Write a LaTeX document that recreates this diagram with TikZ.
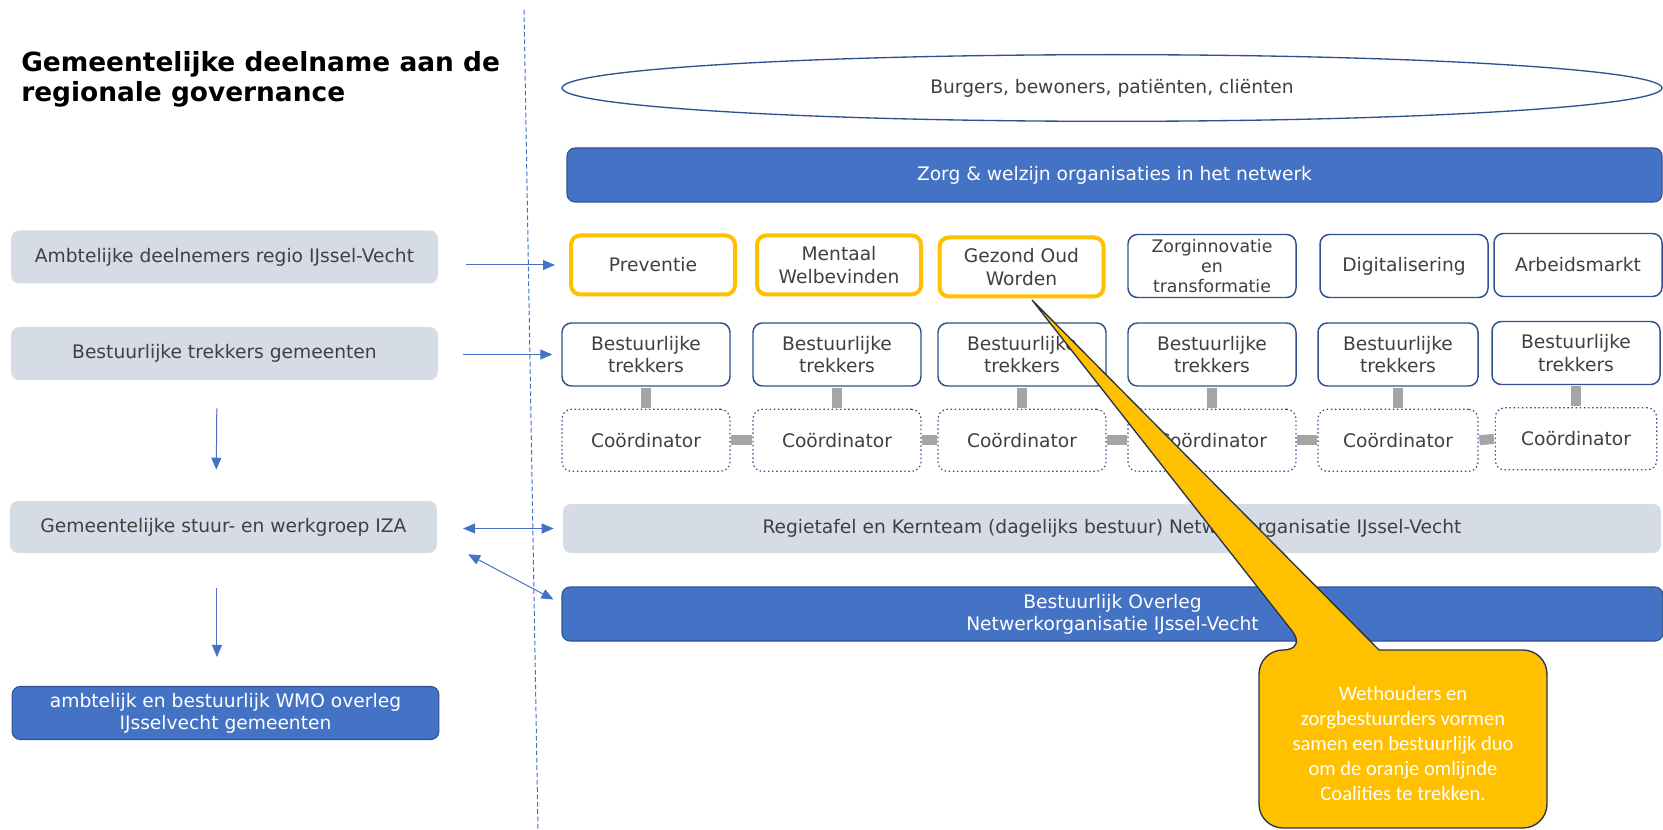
\documentclass[tikz,border=0pt]{standalone}
\usepackage{fontspec}
\setmainfont{DejaVu Sans}
\newfontfamily\calloutfont{Carlito}
\usetikzlibrary{shapes.geometric, positioning, arrows.meta, calc}

\definecolor{ppblue}{HTML}{4472C4}
\definecolor{ppdark}{HTML}{2F528F}
\definecolor{ppgrey}{HTML}{D6DCE5}
\definecolor{pporange}{HTML}{FFC000}
\definecolor{ppbar}{HTML}{A5A5A5}
\definecolor{pptext}{HTML}{404040}
\definecolor{ppnavy}{HTML}{26334D}

\begin{document}
\begin{tikzpicture}[
    x=0.75pt, y=-0.75pt,
    sidebox/.style={
        rectangle,
        rounded corners=6pt,
        fill=ppgrey,
        text=pptext,
        minimum width=320pt,
        minimum height=39.75pt,
        align=center,
        font=\fontsize{14}{16.5}\selectfont
    },
    sidebluebox/.style={
        sidebox,
        fill=ppblue,
        draw=ppdark,
        line width=0.8pt,
        inner sep=1pt,
        text=white
    },
    widebar/.style={
        rectangle,
        rounded corners=6pt,
        minimum height=40.5pt,
        align=center,
        font=\fontsize{14}{16.5}\selectfont
    },
    bluebar/.style={
        widebar,
        fill=ppblue,
        draw=ppdark,
        line width=0.8pt,
        text=white
    },
    greybar/.style={
        widebar,
        fill=ppgrey,
        text=pptext,
        minimum height=36.75pt
    },
    themebox/.style={
        rectangle,
        rounded corners=7pt,
        draw=ppdark,
        line width=1.1pt,
        fill=white,
        text=pptext,
        minimum width=126pt,
        minimum height=47.25pt,
        inner sep=2pt,
        align=center,
        font=\fontsize{14}{17}\selectfont
    },
    coalitie/.style={
        themebox,
        draw=pporange,
        line width=3pt,
        minimum width=123pt,
        minimum height=44.25pt
    },
    coordbox/.style={
        themebox,
        dotted,
        line width=0.9pt,
        minimum height=46.5pt
    },
    link/.style={
        draw=ppbar,
        line width=7.5pt,
        shorten <=0.6pt,
        shorten >=0.6pt
    },
    arr/.style={
        >={Triangle[length=9pt, width=7.5pt]},
        ->,
        draw=ppblue,
        line width=0.75pt
    },
    dblarr/.style={
        arr,
        <->
    },
    divider/.style={
        draw=ppblue,
        line width=0.75pt,
        dash pattern=on 3.5pt off 2pt
    },
    callout/.style={
        fill=pporange,
        draw=ppnavy,
        line width=1pt
    }
]

    \useasboundingbox (0,0) rectangle (1663,830);

    % Title and divider
    \node[anchor=north west, inner sep=0pt, align=left,
          font=\fontsize{19.8}{22.5}\selectfont\bfseries] (title) at (21,51)
          {Gemeentelijke deelname aan de\\regionale governance};

    \draw[divider] (524,10) -- (538,830);

    % Left column (gemeenten)
    \node[sidebox] (amb) at (224.5,257) {Ambtelijke deelnemers regio IJssel-Vecht};
    \node[sidebox] (bes) at (224.5,353.5) {Bestuurlijke trekkers gemeenten};
    \node[sidebox, minimum height=39pt] (gem) at (223.5,527) {Gemeentelijke stuur- en werkgroep IZA};
    \node[sidebluebox] (wmo) at (225.5,713) {ambtelijk en bestuurlijk WMO overleg\\IJsselvecht gemeenten};

    % Right side: netwerk
    \node[ellipse, draw=ppdark, line width=1pt, fill=white, text=pptext,
          minimum width=825pt, minimum height=50pt,
          font=\fontsize{14}{16.5}\selectfont] (burgers) at (1112,88)
          {Burgers, bewoners, patiënten, cliënten};

    \node[bluebar, minimum width=821.25pt] (zorg) at (1114.5,175) {Zorg \& welzijn organisaties in het netwerk};

    % Coalities (orange = getrokken door bestuurlijk duo)
    \node[coalitie] (prev) at (653,265) {Preventie};
    \node[coalitie] (ment) at (839,265) {Mentaal\\Welbevinden};
    \node[coalitie] (goz) at (1021.5,267) {Gezond Oud\\Worden};
    \node[themebox, inner sep=1pt, font=\fontsize{13}{15}\selectfont] (zinn) at (1212,266) {Zorginnovatie\\en\\transformatie};
    \node[themebox] (digi) at (1404,266) {Digitalisering};
    \node[themebox] (arbeid) at (1578,265) {Arbeidsmarkt};

    % Bestuurlijke trekkers per coalitie
    \node[themebox] (trek1) at (646,354.5) {Bestuurlijke\\trekkers};
    \node[themebox] (trek2) at (837,354.5) {Bestuurlijke\\trekkers};
    \node[themebox] (trek3) at (1022,354.5) {Bestuurlijke\\trekkers};
    \node[themebox] (trek4) at (1212,354.5) {Bestuurlijke\\trekkers};
    \node[themebox, minimum width=120pt] (trek5) at (1398,354.5) {Bestuurlijke\\trekkers};
    \node[themebox] (trek6) at (1576,353) {Bestuurlijke\\trekkers};

    % Coordinatoren
    \node[coordbox, below=16.5pt of trek1] (coord1) {Coördinator};
    \node[coordbox, below=16.5pt of trek2] (coord2) {Coördinator};
    \node[coordbox, below=16.5pt of trek3] (coord3) {Coördinator};
    \node[coordbox, below=16.5pt of trek4] (coord4) {Coördinator};
    \node[coordbox, minimum width=120pt, below=16.5pt of trek5] (coord5) {Coördinator};
    \node[coordbox, minimum width=121pt, below=16.5pt of trek6] (coord6) {Coördinator};

    % Grey links
    \draw[link] (trek1.south) -- (coord1.north);
    \draw[link] (trek2.south) -- (coord2.north);
    \draw[link] (trek3.south) -- (coord3.north);
    \draw[link] (trek4.south) -- (coord4.north);
    \draw[link] (trek5.south) -- (coord5.north);
    \draw[link] (trek6.south) -- (coord6.north);
    \draw[link] (coord1.east) -- (coord2.west);
    \draw[link] (coord2.east) -- (coord3.west);
    \draw[link] (coord3.east) -- (coord4.west);
    \draw[link] (coord4.east) -- (coord5.west);
    \draw[link] (coord5.east) -- (coord6.west);

    % Regietafel and Bestuurlijk Overleg
    \node[greybar, minimum width=823.5pt] (regie) at (1112,528.5) {Regietafel en Kernteam (dagelijks bestuur) Netwerkorganisatie IJssel-Vecht};
    \node[bluebar, minimum width=825.75pt] (overleg) at (1112.5,614) {Bestuurlijk Overleg\\Netwerkorganisatie IJssel-Vecht};

    % 1. ambtelijk -> coalities
    \draw[arr, shorten <=21pt, shorten >=10.5pt] (amb.east |- prev.west) -- (prev.west);
    % 2. bestuurlijk -> trekkers
    \draw[arr, shorten <=18.75pt, shorten >=6.75pt] (bes.east |- trek1.west) -- (trek1.west);
    % 3. down arrows on the left
    \draw[arr, shorten <=21pt, shorten >=23.25pt] ([xshift=-5.6pt]bes.south) -- ([xshift=-5.6pt]gem.north);
    \draw[arr, shorten <=26.25pt, shorten >=21.75pt] ([xshift=-4.9pt]gem.south) -- ([xshift=-6.4pt]wmo.north);
    % 4. stuurgroep <-> regietafel / overleg
    \draw[dblarr, shorten <=19.5pt, shorten >=6.75pt] (gem.east |- regie.west) -- (regie.west);
    \draw[dblarr] ($(gem.south east)+(31,1)$) -- ($(overleg.north west)+(-8,13)$);

    % Callout pointing at the coalities
    \coordinate (tip) at ($(goz.south)+(10.5,1.5)$);
    \filldraw[callout] (tip) -- (1379,650) [rounded corners=18pt] -- (1547,650) -- (1547,828)
        -- (1259,828) -- (1259,650) -- (1307,650) [sharp corners] -- cycle;
    \node[text=white, align=center,
          font=\calloutfont\fontsize{15.4}{18.75}\selectfont] (note) at (1403,743)
          {Wethouders en\\zorgbestuurders vormen\\samen een bestuurlijk duo\\om de oranje omlijnde\\Coalities te trekken.};

\end{tikzpicture}
\end{document}
